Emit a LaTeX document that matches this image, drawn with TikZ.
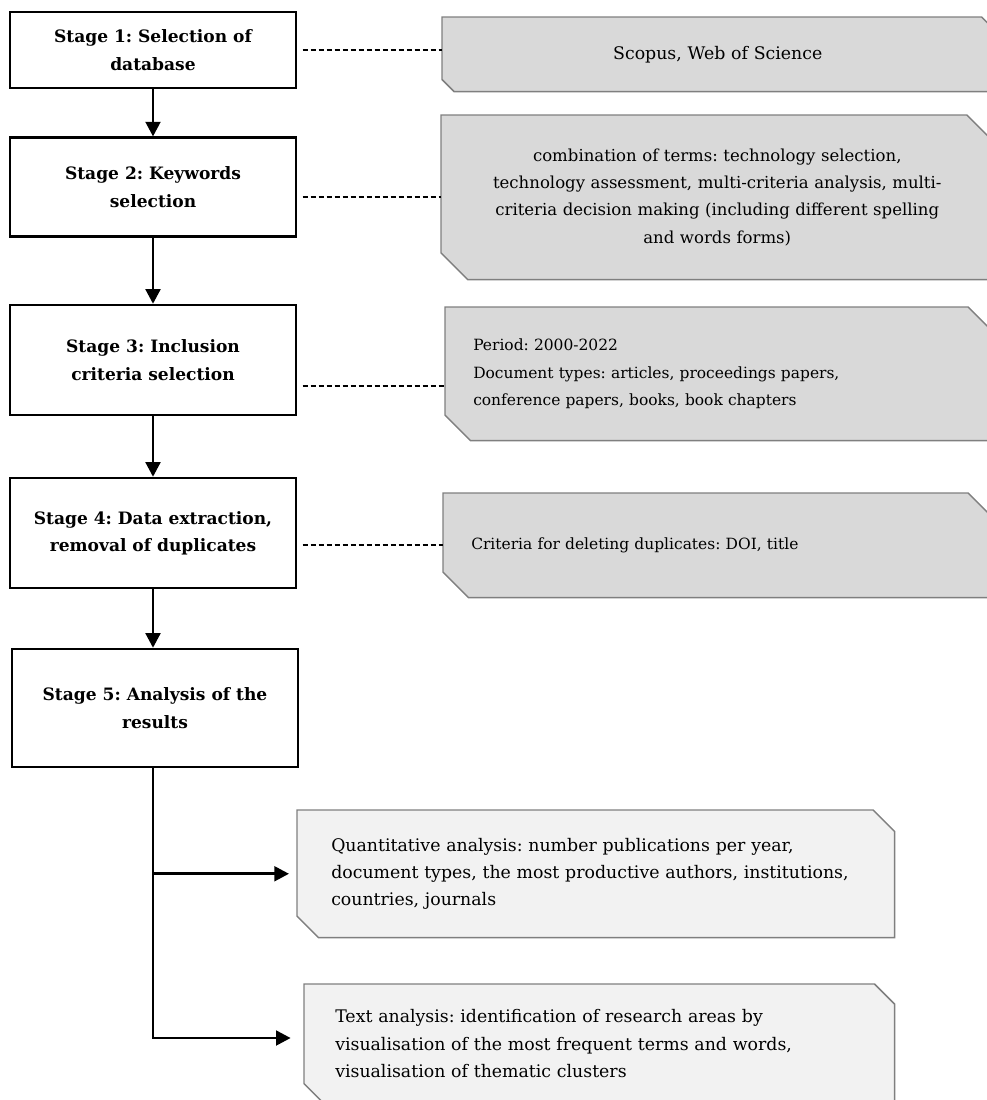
\documentclass[tikz,border=0pt]{standalone}
\usepackage{fontspec}
\setmainfont{DejaVu Serif}
\usepackage{tikz}
\usetikzlibrary{arrows.meta}
\usetikzlibrary{backgrounds}
\frenchspacing

\definecolor{panel}{HTML}{D9D9D9}
\definecolor{lightpanel}{HTML}{F2F2F2}
\definecolor{rim}{HTML}{7F7F7F}

\newcommand{\fsize}[1]{\fontsize{#1}{20.5}\selectfont}
% grey box with two snipped corners: node, cut, fill
\newcommand{\snip}[3]{%
  \filldraw [rim line, fill=#3] (#1.north west) -- ([xshift=-#2]#1.north east)
    -- ([yshift=-#2]#1.north east) -- (#1.south east)
    -- ([xshift=#2]#1.south west) -- ([yshift=#2]#1.south west) -- cycle;}

\begin{document}
\begin{tikzpicture}
    [
    x=0.75pt, y=-0.75pt,
    stage/.style={draw, line width=1.8pt, font=\fsize{12.8}\bfseries, align=center, inner sep=0pt, minimum width=214.5pt},
    note/.style={anchor=north west, font=\fsize{13}, inner xsep=21pt, inner ysep=0pt, align=left},
    rim line/.style={draw=rim, line width=1.1pt},
    flow/.style={line width=2.2pt, line join=miter, -{Triangle[length=11pt,width=11pt]}},
    link/.style={line width=1.4pt, dash pattern=on 3.75pt off 2.25pt, shorten <=4pt},
    ]
    \useasboundingbox (0,0) rectangle (987,1100);

    \node (s1) at (153,50) [stage, minimum height=57pt] {Stage 1: Selection of\\database};
    \node (s2) at (153,187) [stage, minimum height=74pt] {Stage 2: Keywords\\selection};
    \node (s3) at (153,360) [stage, minimum height=82.5pt] {Stage 3: Inclusion\\criteria selection};
    \node (s4) at (153,533) [stage, minimum height=82.5pt] {Stage 4: Data extraction,\\removal of duplicates};
    \node (s5) at (155,708) [stage, minimum height=88.5pt] {Stage 5: Analysis of the\\results};

    \node (d1) at (442,17) [note, align=center, text width=371.25pt, minimum height=55.5pt] {Scopus, Web of Science};
    \node (d2) at (441,115) [note, font=\fsize{12.4}, align=center, text width=372pt, minimum height=123pt] {combination of terms: technology selection,\\technology assessment, multi-criteria analysis, multi-\\criteria decision making (including different spelling\\and words forms)};
    \node (d3) at (445,307) [note, font=\fsize{11.6}, text width=369pt, minimum height=99.75pt] {Period: 2000-2022\\Document types: articles, proceedings papers,\\conference papers, books, book chapters};
    \node (d4) at (443,493) [note, font=\fsize{11.6}, text width=370.5pt, minimum height=78pt] {Criteria for deleting duplicates: DOI, title};
    \node (d5) at (297,810) [note, inner xsep=25.5pt, text width=396.75pt, minimum height=95.25pt] {Quantitative analysis: number publications per year,\\document types, the most productive authors, institutions,\\countries, journals};
    \node (d6) at (304,984) [note, inner xsep=23.25pt, text width=396pt, minimum height=89.25pt] {Text analysis: identification of research areas by\\visualisation of the most frequent terms and words,\\visualisation of thematic clusters};

    \begin{scope}[on background layer]
      \clip (0,0) rectangle (987,1100);
      \snip{d1}{9pt}{panel}
      \snip{d2}{20pt}{panel}
      \snip{d3}{19pt}{panel}
      \snip{d4}{19pt}{panel}
      \snip{d5}{16pt}{lightpanel}
      \snip{d6}{15pt}{lightpanel}
    \end{scope}

    \draw [flow] (s1) to (s2);
    \draw [flow] (s2) to (s3);
    \draw [flow] (s3) to (s4);
    \draw [flow] (s4.south) to (s4.south |- s5.north);

    \draw [link] (s1.east) to (s1.east -| d1.west);
    \draw [link] (d2.west -| s2.east) to (d2.west);
    \draw [link] ([yshift=-9pt]d3.west -| s3.east) to ([yshift=-9pt]d3.west);
    \draw [link] (d4.west -| s4.east) to (d4.west);

    \coordinate (end) at (153,1038);
    \coordinate (tee) at (end |- d5.west);
    \draw [flow, shorten >=10pt] (s5.south -| end) -- (end) -- (end -| d6.west);
    \draw [flow, shorten >=6pt] (tee) -- (d5.west);
\end{tikzpicture}
\end{document}
